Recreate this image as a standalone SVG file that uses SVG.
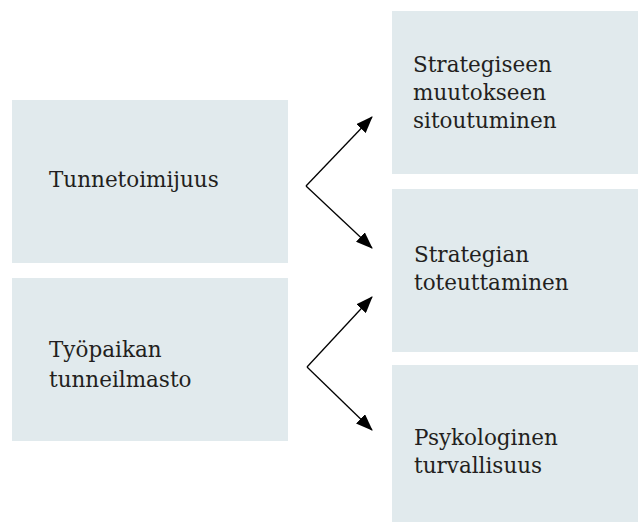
<svg xmlns="http://www.w3.org/2000/svg" width="638" height="522" viewBox="0 0 638 522">
<style>
.box{fill:#e1eaed}
.t{font-family:"DejaVu Serif","Liberation Serif",serif;font-size:21.5px;fill:#231f20}
.c{stroke:#000;stroke-width:1.3;fill:none}
</style>
<defs>
<marker id="ah" markerWidth="17" markerHeight="13" refX="16" refY="6.5" orient="auto" markerUnits="userSpaceOnUse">
<polygon points="0,0 17,6.5 0,13" fill="#000"/>
</marker>
</defs>
<rect width="638" height="522" fill="#fff"/>
<g id="n1"><rect class="box" x="12" y="100" width="276" height="163"/><text class="t" x="49" y="187">Tunnetoimijuus</text></g>
<g id="n2"><rect class="box" x="12" y="278" width="276" height="163"/><text class="t" x="49" y="357">Työpaikan</text><text class="t" x="49" y="387">tunneilmasto</text></g>
<g id="n3"><rect class="box" x="392" y="11" width="246" height="163"/><text class="t" x="413" y="72">Strategiseen</text><text class="t" x="413" y="100">muutokseen</text><text class="t" x="413" y="128">sitoutuminen</text></g>
<g id="n4"><rect class="box" x="392" y="189" width="246" height="163"/><text class="t" x="414" y="262">Strategian</text><text class="t" x="414" y="290">toteuttaminen</text></g>
<g id="n5"><rect class="box" x="392" y="365" width="246" height="157"/><text class="t" x="414" y="445">Psykologinen</text><text class="t" x="414" y="473">turvallisuus</text></g>
<g id="connectors">
<path class="c" d="M306,186 L372,117" marker-end="url(#ah)"/>
<path class="c" d="M306,186 L372,248" marker-end="url(#ah)"/>
<path class="c" d="M307,367 L372,297" marker-end="url(#ah)"/>
<path class="c" d="M307,367 L372,430" marker-end="url(#ah)"/>
</g>
</svg>
